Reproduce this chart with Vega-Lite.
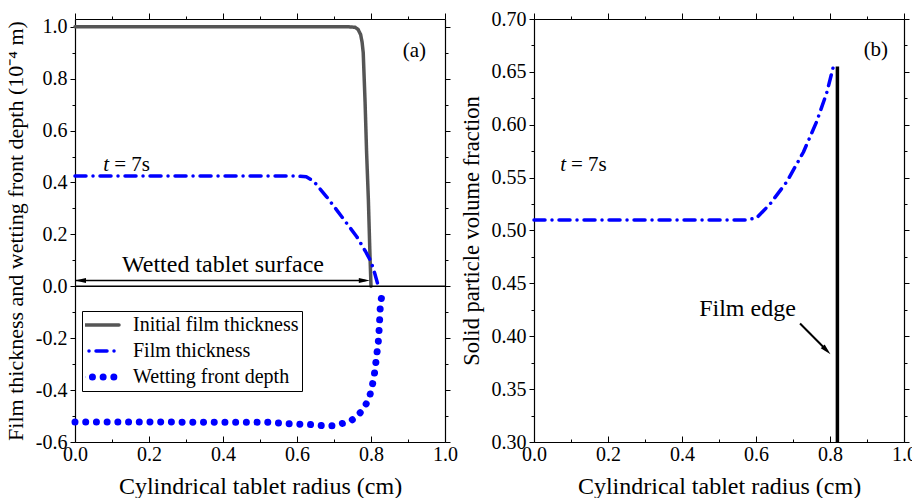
{
  "$schema": "https://vega.github.io/schema/vega-lite/v6.json",
  "padding": {"left": 4, "top": 9, "right": 0, "bottom": 0},
  "background": "white",
  "bounds": "flush",
  "spacing": 89,
  "config": {
    "font": "Times New Roman",
    "view": {"stroke": null},
    "axis": {
      "grid": false,
      "labelFlush": false,
      "domainColor": "black",
      "domainWidth": 1.2,
      "tickColor": "black",
      "tickWidth": 1,
      "labelColor": "black",
      "labelFont": "Times New Roman",
      "labelFontSize": 20,
      "titleFont": "Times New Roman",
      "titleFontSize": 24,
      "titleFontWeight": "normal",
      "titleColor": "black"
    },
    "text": {"font": "Times New Roman", "color": "black"}
  },
  "hconcat": [
    {
      "width": 370,
      "height": 423,
      "resolve": {"axis": {"x": "independent", "y": "independent"}},
      "layer": [
        {
          "data": {"values": [
            {"series": "Initial film thickness", "x": 0, "y": 1},
            {"series": "Initial film thickness", "x": 0.2, "y": 1},
            {"series": "Initial film thickness", "x": 0.4, "y": 1},
            {"series": "Initial film thickness", "x": 0.6, "y": 1},
            {"series": "Initial film thickness", "x": 0.74, "y": 1},
            {"series": "Initial film thickness", "x": 0.757, "y": 0.998},
            {"series": "Initial film thickness", "x": 0.765, "y": 0.99},
            {"series": "Initial film thickness", "x": 0.772, "y": 0.97},
            {"series": "Initial film thickness", "x": 0.776, "y": 0.94},
            {"series": "Initial film thickness", "x": 0.779, "y": 0.9},
            {"series": "Initial film thickness", "x": 0.784, "y": 0.71},
            {"series": "Initial film thickness", "x": 0.788, "y": 0.52},
            {"series": "Initial film thickness", "x": 0.793, "y": 0.33},
            {"series": "Initial film thickness", "x": 0.797, "y": 0.13},
            {"series": "Initial film thickness", "x": 0.8, "y": 0.0},
            {"series": "Film thickness", "x": 0, "y": 0.425},
            {"series": "Film thickness", "x": 0.3, "y": 0.425},
            {"series": "Film thickness", "x": 0.6, "y": 0.425},
            {"series": "Film thickness", "x": 0.625, "y": 0.422},
            {"series": "Film thickness", "x": 0.645, "y": 0.405},
            {"series": "Film thickness", "x": 0.68, "y": 0.345},
            {"series": "Film thickness", "x": 0.72, "y": 0.27},
            {"series": "Film thickness", "x": 0.762, "y": 0.19},
            {"series": "Film thickness", "x": 0.785, "y": 0.135},
            {"series": "Film thickness", "x": 0.8, "y": 0.095},
            {"series": "Film thickness", "x": 0.81, "y": 0.05},
            {"series": "Film thickness", "x": 0.82, "y": 0.0}
          ]},
          "mark": {"type": "line", "strokeWidth": 3.5, "strokeCap": "round", "strokeJoin": "round"},
          "encoding": {
            "x": {
              "field": "x", "type": "quantitative",
              "scale": {"domain": [0, 1], "nice": false, "zero": false},
              "axis": {
                "orient": "bottom",
                "title": "Cylindrical tablet radius (cm)",
                "values": [0, 0.1, 0.2, 0.3, 0.4, 0.5, 0.6, 0.7, 0.8, 0.9, 1],
                "labelExpr": "round(datum.value*10)%2==0 ? format(datum.value,'.1f') : ''",
                "tickSize": {"condition": {"test": "round(datum.value*10)%2!=0", "value": -3}, "value": -6},
                "labelPadding": 8,
                "titlePadding": 10
              }
            },
            "y": {
              "field": "y", "type": "quantitative",
              "scale": {"domain": [-0.6, 1.03], "nice": false, "zero": false},
              "axis": {
                "orient": "left",
                "title": "Film thickness and wetting front depth (10⁻⁴ m)",
                "titleFontSize": 22,
                "values": [-0.6, -0.5, -0.4, -0.3, -0.2, -0.1, 0, 0.1, 0.2, 0.3, 0.4, 0.5, 0.6, 0.7, 0.8, 0.9, 1.0],
                "labelExpr": "round(datum.value*10)%2==0 ? (datum.value<0?'-':'') + format(abs(datum.value),'.1f') : ''",
                "tickSize": {"condition": {"test": "round(datum.value*10)%2!=0", "value": 3}, "value": 5},
                "labelPadding": 3,
                "titlePadding": 8
              }
            },
            "color": {
              "field": "series", "type": "nominal",
              "scale": {"domain": ["Initial film thickness", "Film thickness", "Wetting front depth"], "range": ["#555555", "#0000ff", "#0000ff"]},
              "legend": {
                "orient": "none", "legendX": 7, "legendY": 292, "title": null,
                "symbolType": "stroke", "symbolSize": 2304, "symbolStrokeWidth": 3.5,
                "labelFont": "Times New Roman", "labelFontSize": 20, "labelColor": "black", "labelOffset": 28, "labelLimit": 400,
                "strokeColor": "black", "fillColor": "white", "padding": 3, "rowPadding": 4, "clipHeight": 22,
                "encode": {
                  "legend": {"update": {"stroke": {"value": "black"}, "strokeWidth": {"value": 1}, "fill": {"value": "white"}}},
                  "symbols": {"update": {"strokeCap": {"value": "round"}, "strokeWidth": {"signal": "datum.value === 'Wetting front depth' ? 7 : 3.5"}}}
                }
              }
            },
            "strokeDash": {
              "field": "series", "type": "nominal",
              "scale": {"domain": ["Initial film thickness", "Film thickness", "Wetting front depth"], "range": [[1, 0], [11, 7, 0.01, 7], [0.01, 10.7]]},
              "legend": {
                "orient": "none", "legendX": 7, "legendY": 292, "title": null,
                "symbolType": "stroke", "symbolSize": 2304, "symbolStrokeWidth": 3.5,
                "labelFont": "Times New Roman", "labelFontSize": 20, "labelColor": "black", "labelOffset": 28, "labelLimit": 400,
                "strokeColor": "black", "fillColor": "white", "padding": 3, "rowPadding": 4, "clipHeight": 22,
                "encode": {
                  "legend": {"update": {"stroke": {"value": "black"}, "strokeWidth": {"value": 1}, "fill": {"value": "white"}}},
                  "symbols": {"update": {"strokeCap": {"value": "round"}, "strokeWidth": {"signal": "datum.value === 'Wetting front depth' ? 7 : 3.5"}}}
                }
              }
            }
          }
        },
        {
          "data": {"values": [
            {"series": "Wetting front depth", "x": 0, "y": -0.523},
            {"series": "Wetting front depth", "x": 0.2, "y": -0.523},
            {"series": "Wetting front depth", "x": 0.4, "y": -0.524},
            {"series": "Wetting front depth", "x": 0.52, "y": -0.524},
            {"series": "Wetting front depth", "x": 0.58, "y": -0.53},
            {"series": "Wetting front depth", "x": 0.64, "y": -0.533},
            {"series": "Wetting front depth", "x": 0.667, "y": -0.537},
            {"series": "Wetting front depth", "x": 0.7, "y": -0.537},
            {"series": "Wetting front depth", "x": 0.727, "y": -0.527},
            {"series": "Wetting front depth", "x": 0.743, "y": -0.52},
            {"series": "Wetting front depth", "x": 0.761, "y": -0.504},
            {"series": "Wetting front depth", "x": 0.781, "y": -0.469},
            {"series": "Wetting front depth", "x": 0.795, "y": -0.431},
            {"series": "Wetting front depth", "x": 0.802, "y": -0.392},
            {"series": "Wetting front depth", "x": 0.808, "y": -0.351},
            {"series": "Wetting front depth", "x": 0.812, "y": -0.309},
            {"series": "Wetting front depth", "x": 0.815, "y": -0.268},
            {"series": "Wetting front depth", "x": 0.819, "y": -0.228},
            {"series": "Wetting front depth", "x": 0.821, "y": -0.187},
            {"series": "Wetting front depth", "x": 0.823, "y": -0.145},
            {"series": "Wetting front depth", "x": 0.824, "y": -0.104},
            {"series": "Wetting front depth", "x": 0.826, "y": -0.063},
            {"series": "Wetting front depth", "x": 0.831, "y": -0.023}
          ]},
          "mark": {"type": "line", "strokeWidth": 7, "strokeCap": "round", "strokeJoin": "round"},
          "encoding": {
            "x": {"field": "x", "type": "quantitative", "axis": null},
            "y": {"field": "y", "type": "quantitative", "axis": null},
            "color": {"field": "series", "type": "nominal", "legend": null},
            "strokeDash": {"field": "series", "type": "nominal", "legend": null}
          }
        },
        {
          "data": {"values": [{"y": 0}]},
          "mark": {"type": "rule", "color": "black", "strokeWidth": 1.5},
          "encoding": {"y": {"field": "y", "type": "quantitative", "axis": null}}
        },
        {
          "data": {"values": [{"x": 0.0, "x2": 0.785, "y": 0.022}]},
          "mark": {"type": "rule", "color": "black", "strokeWidth": 1.5},
          "encoding": {
            "x": {
              "field": "x", "type": "quantitative",
              "axis": {
                "orient": "top", "title": null, "labels": false,
                "values": [0, 0.1, 0.2, 0.3, 0.4, 0.5, 0.6, 0.7, 0.8, 0.9, 1],
                "tickSize": {"condition": {"test": "round(datum.value*10)%2!=0", "value": 3}, "value": 6}
              }
            },
            "x2": {"field": "x2"},
            "y": {
              "field": "y", "type": "quantitative",
              "axis": {
                "orient": "right", "title": null, "labels": false,
                "values": [-0.6, -0.5, -0.4, -0.3, -0.2, -0.1, 0, 0.1, 0.2, 0.3, 0.4, 0.5, 0.6, 0.7, 0.8, 0.9, 1.0],
                "tickSize": {"condition": {"test": "round(datum.value*10)%2!=0", "value": 3}, "value": 5}
              }
            }
          }
        },
        {
          "data": {"values": [{"x": 0.0149, "y": 0.022, "dir": "left"}, {"x": 0.782, "y": 0.022, "dir": "right"}]},
          "mark": {"type": "point", "filled": true, "color": "black", "opacity": 1, "size": 121},
          "encoding": {
            "x": {"field": "x", "type": "quantitative", "axis": null},
            "y": {"field": "y", "type": "quantitative", "axis": null},
            "shape": {"field": "dir", "type": "nominal", "scale": {"domain": ["left", "right"], "range": ["M-1,0L1,-0.45L1,0.45Z", "M1,0L-1,-0.45L-1,0.45Z"]}, "legend": null}
          }
        },
        {
          "data": {"values": [{"label": "Wetted tablet surface", "x": 0.4, "y": 0.083}]},
          "mark": {"type": "text", "fontSize": 24, "align": "center", "baseline": "middle"},
          "encoding": {
            "x": {"field": "x", "type": "quantitative", "axis": null},
            "y": {"field": "y", "type": "quantitative", "axis": null},
            "text": {"field": "label"}
          }
        },
        {
          "data": {"values": [{"label": "(a)", "x": 0.917, "y": 0.906, "a": "center"}, {"label": "= 7s", "x": 0.106, "y": 0.467, "a": "left"}]},
          "mark": {"type": "text", "fontSize": 21, "baseline": "middle", "align": {"expr": "datum.a"}},
          "encoding": {
            "x": {"field": "x", "type": "quantitative", "axis": null},
            "y": {"field": "y", "type": "quantitative", "axis": null},
            "text": {"field": "label"}
          }
        },
        {
          "data": {"values": [{"label": "t", "x": 0.0765, "y": 0.467}]},
          "mark": {"type": "text", "fontSize": 21, "fontStyle": "italic", "baseline": "middle", "align": "left"},
          "encoding": {
            "x": {"field": "x", "type": "quantitative", "axis": null},
            "y": {"field": "y", "type": "quantitative", "axis": null},
            "text": {"field": "label"}
          }
        }
      ]
    },
    {
      "width": 370,
      "height": 423,
      "resolve": {"axis": {"x": "independent", "y": "independent"}},
      "layer": [
        {
          "data": {"values": [
            {"x": 0, "y": 0.51},
            {"x": 0.3, "y": 0.51},
            {"x": 0.575, "y": 0.51},
            {"x": 0.602, "y": 0.512},
            {"x": 0.638, "y": 0.525},
            {"x": 0.683, "y": 0.546},
            {"x": 0.728, "y": 0.574},
            {"x": 0.764, "y": 0.603},
            {"x": 0.791, "y": 0.63},
            {"x": 0.812, "y": 0.659}
          ]},
          "mark": {"type": "line", "color": "#0000ff", "strokeWidth": 3.5, "strokeCap": "round", "strokeJoin": "round", "strokeDash": [11, 7, 0.01, 7]},
          "encoding": {
            "x": {
              "field": "x", "type": "quantitative",
              "scale": {"domain": [0, 1], "nice": false, "zero": false},
              "axis": {
                "orient": "bottom",
                "title": "Cylindrical tablet radius (cm)",
                "values": [0, 0.1, 0.2, 0.3, 0.4, 0.5, 0.6, 0.7, 0.8, 0.9, 1],
                "labelExpr": "round(datum.value*10)%2==0 ? format(datum.value,'.1f') : ''",
                "tickSize": {"condition": {"test": "round(datum.value*10)%2!=0", "value": -3}, "value": -6},
                "labelPadding": 8,
                "titlePadding": 10
              }
            },
            "y": {
              "field": "y", "type": "quantitative",
              "scale": {"domain": [0.3, 0.7], "nice": false, "zero": false},
              "axis": {
                "orient": "left",
                "title": "Solid particle volume fraction",
                "titleFontSize": 22.5,
                "values": [0.3, 0.325, 0.35, 0.375, 0.4, 0.425, 0.45, 0.475, 0.5, 0.525, 0.55, 0.575, 0.6, 0.625, 0.65, 0.675, 0.7],
                "labelExpr": "round(datum.value*40)%2==0 ? format(datum.value,'.2f') : ''",
                "tickSize": {"condition": {"test": "round(datum.value*40)%2!=0", "value": 3}, "value": 5},
                "labelPadding": 3,
                "titlePadding": 8
              }
            }
          }
        },
        {
          "data": {"values": [{"x": 0.82, "y": 0.3, "y2": 0.655}]},
          "mark": {"type": "rule", "color": "black", "strokeWidth": 3.5},
          "encoding": {
            "x": {
              "field": "x", "type": "quantitative",
              "axis": {
                "orient": "top", "title": null, "labels": false,
                "values": [0, 0.1, 0.2, 0.3, 0.4, 0.5, 0.6, 0.7, 0.8, 0.9, 1],
                "tickSize": {"condition": {"test": "round(datum.value*10)%2!=0", "value": 3}, "value": 6}
              }
            },
            "y": {
              "field": "y", "type": "quantitative",
              "axis": {
                "orient": "right", "title": null, "labels": false,
                "values": [0.3, 0.325, 0.35, 0.375, 0.4, 0.425, 0.45, 0.475, 0.5, 0.525, 0.55, 0.575, 0.6, 0.625, 0.65, 0.675, 0.7],
                "tickSize": {"condition": {"test": "round(datum.value*40)%2!=0", "value": 3}, "value": 5}
              }
            },
            "y2": {"field": "y2"}
          }
        },
        {
          "data": {"values": [{"x": 0.719, "y": 0.412, "x2": 0.7908, "y2": 0.3867}]},
          "mark": {"type": "rule", "color": "black", "strokeWidth": 2},
          "encoding": {
            "x": {"field": "x", "type": "quantitative", "axis": null},
            "y": {"field": "y", "type": "quantitative", "axis": null},
            "x2": {"field": "x2"},
            "y2": {"field": "y2"}
          }
        },
        {
          "data": {"values": [{"x": 0.7908, "y": 0.3867}]},
          "mark": {"type": "point", "filled": true, "color": "black", "opacity": 1, "size": 121, "angle": 45, "shape": "M1,0L-1,-0.5L-1,0.5Z"},
          "encoding": {
            "x": {"field": "x", "type": "quantitative", "axis": null},
            "y": {"field": "y", "type": "quantitative", "axis": null}
          }
        },
        {
          "data": {"values": [{"label": "Film edge", "x": 0.577, "y": 0.4255}]},
          "mark": {"type": "text", "fontSize": 24, "align": "center", "baseline": "middle"},
          "encoding": {
            "x": {"field": "x", "type": "quantitative", "axis": null},
            "y": {"field": "y", "type": "quantitative", "axis": null},
            "text": {"field": "label"}
          }
        },
        {
          "data": {"values": [{"label": "(b)", "x": 0.924, "y": 0.671, "a": "center"}, {"label": "= 7s", "x": 0.1, "y": 0.5624, "a": "left"}]},
          "mark": {"type": "text", "fontSize": 21, "baseline": "middle", "align": {"expr": "datum.a"}},
          "encoding": {
            "x": {"field": "x", "type": "quantitative", "axis": null},
            "y": {"field": "y", "type": "quantitative", "axis": null},
            "text": {"field": "label"}
          }
        },
        {
          "data": {"values": [{"label": "t", "x": 0.071, "y": 0.5624}]},
          "mark": {"type": "text", "fontSize": 21, "fontStyle": "italic", "baseline": "middle", "align": "left"},
          "encoding": {
            "x": {"field": "x", "type": "quantitative", "axis": null},
            "y": {"field": "y", "type": "quantitative", "axis": null},
            "text": {"field": "label"}
          }
        }
      ]
    }
  ]
}
